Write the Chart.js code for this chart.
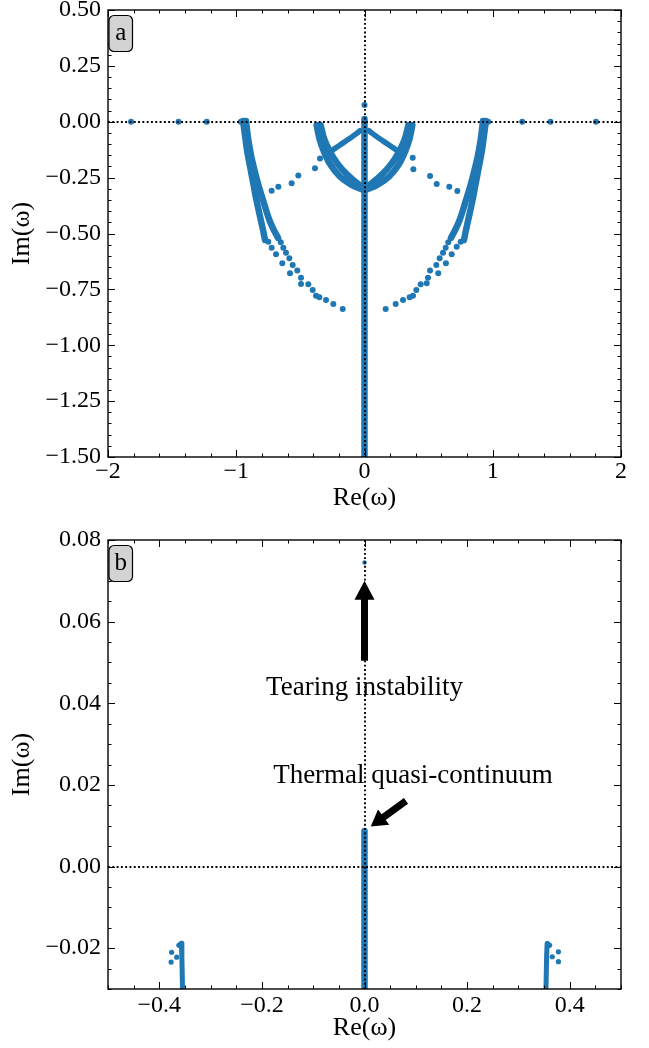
<!DOCTYPE html>
<html><head><meta charset="utf-8">
<script src="https://cdn.jsdelivr.net/npm/chart.js@4"></script>
<style>
html,body{margin:0;padding:0;background:#fff;}
#wrap{position:relative;width:649px;height:1048px;overflow:hidden;}
canvas{position:absolute;left:0;}
</style></head><body>
<div id="wrap">
<canvas id="ca" width="649" height="520" style="top:0px"></canvas>
<canvas id="cb" width="649" height="528" style="top:520px"></canvas>
</div>
<script>
// ================= DATA (Re, Im pairs) =================
// ---- panel a ----
const aXTicks = [-2, -1, 0, 1, 2];
const aYTicks = [0.5, 0.25, 0, -0.25, -0.5, -0.75, -1.0, -1.25, -1.5];
const aRealAxis = [[-1.82,0],[-1.45,0],[-1.23,0],[-0.965,0],[-0.93,0],[0.93,0],[0.965,0],[1.23,0],[1.45,0],[1.805,0]];
const aTearing = [[0,0.0745]];
const aColumn = [[0,0.012],[0,-1.56]];
const aOuterLA = [[-0.947,0.003],[-0.932,-0.059],[-0.916,-0.127],[-0.893,-0.198],[-0.869,-0.270],[-0.846,-0.341],[-0.819,-0.413],[-0.791,-0.485],[-0.776,-0.529]];
const aOuterLB = [[-0.924,0.003],[-0.908,-0.073],[-0.885,-0.149],[-0.854,-0.225],[-0.823,-0.292],[-0.791,-0.351],[-0.760,-0.409],[-0.729,-0.458],[-0.698,-0.494],[-0.674,-0.520]];
const aOuterRA = [[0.947,0.003],[0.932,-0.059],[0.916,-0.127],[0.893,-0.198],[0.869,-0.270],[0.846,-0.341],[0.819,-0.413],[0.791,-0.485],[0.776,-0.529]];
const aOuterRB = [[0.924,0.003],[0.908,-0.073],[0.885,-0.149],[0.854,-0.225],[0.823,-0.292],[0.791,-0.351],[0.760,-0.409],[0.729,-0.458],[0.698,-0.494],[0.674,-0.520]];
const aTailLA = [[-0.750,-0.537],[-0.724,-0.564],[-0.690,-0.593],[-0.641,-0.633],[-0.581,-0.678],[-0.495,-0.726]];
const aTailLB = [[-0.653,-0.539],[-0.633,-0.564],[-0.612,-0.586],[-0.586,-0.611],[-0.560,-0.641],[-0.524,-0.666],[-0.495,-0.698],[-0.438,-0.727],[-0.404,-0.753],[-0.378,-0.778],[-0.352,-0.785],[-0.300,-0.797],[-0.243,-0.815],[-0.170,-0.838]];
const aTailRA = [[0.750,-0.537],[0.719,-0.559],[0.680,-0.593],[0.635,-0.633],[0.575,-0.678],[0.485,-0.723]];
const aTailRB = [[0.653,-0.539],[0.633,-0.564],[0.612,-0.586],[0.586,-0.611],[0.560,-0.641],[0.511,-0.666],[0.495,-0.698],[0.438,-0.727],[0.404,-0.753],[0.378,-0.778],[0.352,-0.785],[0.300,-0.797],[0.243,-0.815],[0.165,-0.838]];
const aBridgeL = [[-0.724,-0.309],[-0.672,-0.291],[-0.568,-0.275],[-0.516,-0.240],[-0.386,-0.208],[-0.347,-0.164]];
const aBridgeR = [[0.724,-0.310],[0.661,-0.291],[0.563,-0.279],[0.511,-0.243],[0.381,-0.213],[0.376,-0.161]];
const aInnerL1 = [[-0.373,-0.015],[-0.352,-0.074],[-0.316,-0.134],[-0.264,-0.194],[-0.191,-0.246],[-0.100,-0.283],[-0.022,-0.302]];
const aInnerL2 = [[-0.342,-0.015],[-0.316,-0.074],[-0.269,-0.134],[-0.212,-0.186],[-0.139,-0.234],[-0.061,-0.273],[-0.010,-0.293]];
const aInnerR1 = [[0.373,-0.015],[0.352,-0.074],[0.316,-0.134],[0.264,-0.194],[0.191,-0.246],[0.100,-0.283],[0.022,-0.302]];
const aInnerR2 = [[0.342,-0.015],[0.316,-0.074],[0.269,-0.134],[0.212,-0.186],[0.139,-0.234],[0.061,-0.273],[0.010,-0.293]];
const aSpurL = [[-0.269,-0.134],[-0.191,-0.104],[-0.113,-0.074],[-0.061,-0.052],[-0.035,-0.040]];
const aSpurR = [[0.269,-0.134],[0.191,-0.104],[0.113,-0.074],[0.061,-0.052],[0.035,-0.040]];

// ---- panel b ----
const bXTicks = [-0.4, -0.2, 0, 0.2, 0.4];
const bYTicks = [0.08, 0.06, 0.04, 0.02, 0, -0.02];
const bTearing = [[0,0.0745]];
const bColumn = [[0,0.0087],[0,-0.035]];
const bBandL = [[-0.362,-0.0193],[-0.357,-0.0188],[-0.356,-0.0220],[-0.354,-0.035]];
const bBandR = [[0.361,-0.0193],[0.356,-0.0188],[0.355,-0.0220],[0.353,-0.035]];
const bDotsL = [[-0.376,-0.0210],[-0.366,-0.0222],[-0.377,-0.0234]];
const bDotsR = [[0.378,-0.0209],[0.366,-0.0221],[0.378,-0.0233]];

// ================= RENDERING =================
const BLUE = '#1f77b4';
const FONT = "'Liberation Serif', 'Times New Roman', serif";
const pts = arr => arr.map(([x, y]) => ({x, y}));
const dots = (arr, r) => ({data: pts(arr), showLine: false, pointRadius: r, pointHoverRadius: r,
  backgroundColor: BLUE, pointBorderWidth: 0, borderWidth: 0});
const band = (arr, w, t) => ({data: pts(arr), showLine: true, pointRadius: 0, borderColor: BLUE,
  borderWidth: w, borderCapStyle: 'round', borderJoinStyle: 'round', tension: t === undefined ? 0.3 : t, fill: false});
const fmt = (v, d) => { const s = Math.abs(v) < 1e-12 ? (0).toFixed(d) : v.toFixed(d); return s.replace('-', '\u2212'); };

function drawArrow(ctx, x1, y1, x2, y2, sw, hw, hl) {
  const a = Math.atan2(y2 - y1, x2 - x1), L = Math.hypot(x2 - x1, y2 - y1);
  ctx.save(); ctx.translate(x1, y1); ctx.rotate(a);
  ctx.beginPath();
  ctx.moveTo(0, -sw / 2); ctx.lineTo(L - hl, -sw / 2); ctx.lineTo(L - hl, -hw / 2);
  ctx.lineTo(L, 0); ctx.lineTo(L - hl, hw / 2); ctx.lineTo(L - hl, sw / 2); ctx.lineTo(0, sw / 2);
  ctx.closePath(); ctx.fillStyle = '#000'; ctx.fill();
  ctx.restore();
}

const framePlugin = {
  id: 'frame',
  afterDatasetsDraw(chart, args, o) {
    const {ctx, chartArea: ca, scales: {x, y}} = chart;
    ctx.save();
    (o.texts || []).forEach(t => {
      ctx.fillStyle = '#000'; ctx.font = t.size + 'px ' + FONT;
      ctx.textAlign = 'center'; ctx.textBaseline = 'middle';
      ctx.fillText(t.text, x.getPixelForValue(t.at[0]), y.getPixelForValue(t.at[1]));
    });
    ctx.strokeStyle = '#000'; ctx.lineWidth = 1.9; ctx.setLineDash([1.9, 2.4]);
    const x0 = Math.round(x.getPixelForValue(0)), y0 = Math.round(y.getPixelForValue(0));
    ctx.beginPath();
    ctx.moveTo(x0, ca.top); ctx.lineTo(x0, ca.bottom);
    ctx.moveTo(ca.left, y0); ctx.lineTo(ca.right, y0);
    ctx.stroke(); ctx.setLineDash([]);
    (o.arrows || []).forEach(a => {
      drawArrow(ctx, x.getPixelForValue(a.from[0]), y.getPixelForValue(a.from[1]),
        x.getPixelForValue(a.to[0]), y.getPixelForValue(a.to[1]), a.sw, a.hw, a.hl);
    });
    ctx.strokeStyle = '#000'; ctx.lineWidth = 1;
    const tick = (len, isX, v) => {
      if (isX) {
        const p = Math.round(x.getPixelForValue(v)) + 0.5;
        ctx.moveTo(p, ca.bottom); ctx.lineTo(p, ca.bottom - len);
        ctx.moveTo(p, ca.top); ctx.lineTo(p, ca.top + len);
      } else {
        const p = Math.round(y.getPixelForValue(v)) + 0.5;
        ctx.moveTo(ca.left, p); ctx.lineTo(ca.left + len, p);
        ctx.moveTo(ca.right, p); ctx.lineTo(ca.right - len, p);
      }
    };
    ctx.beginPath();
    const near = (v, arr) => arr.some(m => Math.abs(m - v) < 1e-9);
    o.xMajor.forEach(v => tick(7, true, v));
    o.yMajor.forEach(v => tick(7, false, v));
    for (let i = 0; ; i++) { const v = +(x.min + i * o.xMinor).toFixed(6); if (v > x.max + 1e-9) break; if (!near(v, o.xMajor)) tick(3.5, true, v); }
    for (let i = 0; ; i++) { const v = +(y.min + i * o.yMinor).toFixed(6); if (v > y.max + 1e-9) break; if (!near(v, o.yMajor)) tick(3.5, false, v); }
    ctx.stroke();
    ctx.lineWidth = 1.4;
    ctx.strokeRect(ca.left, ca.top, ca.right - ca.left, ca.bottom - ca.top);
    const bx = ca.left + 1, by = ca.top + 5.5, bw = 23.5, bh = 36;
    ctx.beginPath(); ctx.roundRect(bx, by, bw, bh, 5);
    ctx.fillStyle = '#d3d3d3'; ctx.fill(); ctx.lineWidth = 1.2; ctx.stroke();
    ctx.fillStyle = '#000'; ctx.font = '25px ' + FONT; ctx.textAlign = 'center'; ctx.textBaseline = 'alphabetic';
    ctx.fillText(o.label, bx + bw / 2, by + 24);
    ctx.restore();
  }
};

function makeChart(id, cfg) {
  const fixX = s => { s.height = cfg.xH; s.paddingLeft = 0; s.paddingRight = 0; };
  const fixY = s => { s.width = 108; s.paddingTop = 0; s.paddingBottom = 0; };
  return new Chart(document.getElementById(id), {
    type: 'scatter',
    data: {datasets: cfg.datasets},
    plugins: [framePlugin],
    options: {
      responsive: false, animation: false, devicePixelRatio: 1, events: [],
      layout: {padding: {left: 0, right: 28, top: cfg.top, bottom: 0}},
      plugins: {legend: {display: false}, tooltip: {enabled: false},
        frame: {xMajor: cfg.xTicks, yMajor: cfg.yTicks, xMinor: cfg.xMinor, yMinor: cfg.yMinor,
          label: cfg.label, texts: cfg.texts, arrows: cfg.arrows}},
      scales: {
        x: {type: 'linear', min: cfg.xMin, max: cfg.xMax,
          afterBuildTicks: s => { s.ticks = cfg.xTicks.map(v => ({value: v})); },
          afterFit: fixX,
          grid: {display: false, drawTicks: false}, border: {display: false},
          ticks: {autoSkip: false, maxRotation: 0, padding: cfg.xPad, color: '#000', font: {family: FONT, size: 24},
            callback: v => fmt(v, cfg.xDec)},
          title: {display: true, text: 'Re(\u03c9)', color: '#000', font: {family: FONT, size: 26},
            padding: {top: 0, bottom: cfg.xTitlePad}}},
        y: {type: 'linear', min: cfg.yMin, max: cfg.yMax,
          afterBuildTicks: s => { s.ticks = cfg.yTicks.map(v => ({value: v})); },
          afterFit: fixY,
          grid: {display: false, drawTicks: false}, border: {display: false},
          ticks: {autoSkip: false, padding: 7, color: '#000', font: {family: FONT, size: 24},
            callback: v => fmt(v, cfg.yDec)},
          title: {display: true, text: 'Im(\u03c9)', color: '#000', font: {family: FONT, size: 26},
            padding: {top: 6.4, bottom: 0}}}
      }
    }
  });
}

const RA = 3, RB = 2.6;
makeChart('ca', {
  top: 10, xH: 63, xTitlePad: 6.4, xPad: 0, label: 'a',
  xMin: -2, xMax: 2, yMin: -1.5, yMax: 0.5, xTicks: aXTicks, yTicks: aYTicks, xMinor: 0.2, yMinor: 0.05, xDec: 0, yDec: 2,
  datasets: [
    band(aColumn, 6.5, 0),
    band(aOuterLA, 6.5), band(aOuterLB, 6.5), band(aOuterRA, 6.5), band(aOuterRB, 6.5),
    band(aInnerL1, 6.5), band(aInnerL2, 6.5), band(aInnerR1, 6.5), band(aInnerR2, 6.5),
    band(aSpurL, 5.5), band(aSpurR, 5.5),
    dots(aTailLA, RA), dots(aTailLB, RA), dots(aTailRA, RA), dots(aTailRB, RA),
    dots(aBridgeL, RA), dots(aBridgeR, RA),
    dots(aRealAxis, RA), dots(aTearing, RA)
  ]
});
makeChart('cb', {
  top: 20, xH: 59, xTitlePad: 4.4, xPad: 2, label: 'b',
  xMin: -0.5, xMax: 0.5, yMin: -0.03, yMax: 0.08, xTicks: bXTicks, yTicks: bYTicks, xMinor: 0.05, yMinor: 0.005, xDec: 1, yDec: 2,
  texts: [{text: 'Tearing instability', at: [0, 0.04375], size: 27},
          {text: 'Thermal quasi-continuum', at: [0.0945, 0.0222], size: 27}],
  arrows: [{from: [0, 0.0504], to: [0, 0.0700], sw: 7, hw: 20, hl: 19},
           {from: [0.0809, 0.0161], to: [0.0121, 0.0098], sw: 7, hw: 19, hl: 16}],
  datasets: [
    band(bColumn, 6.5, 0), band(bBandL, 5, 0), band(bBandR, 5, 0),
    dots(bDotsL, RB), dots(bDotsR, RB), dots(bTearing, 2.2)
  ]
});
</script>
</body></html>
